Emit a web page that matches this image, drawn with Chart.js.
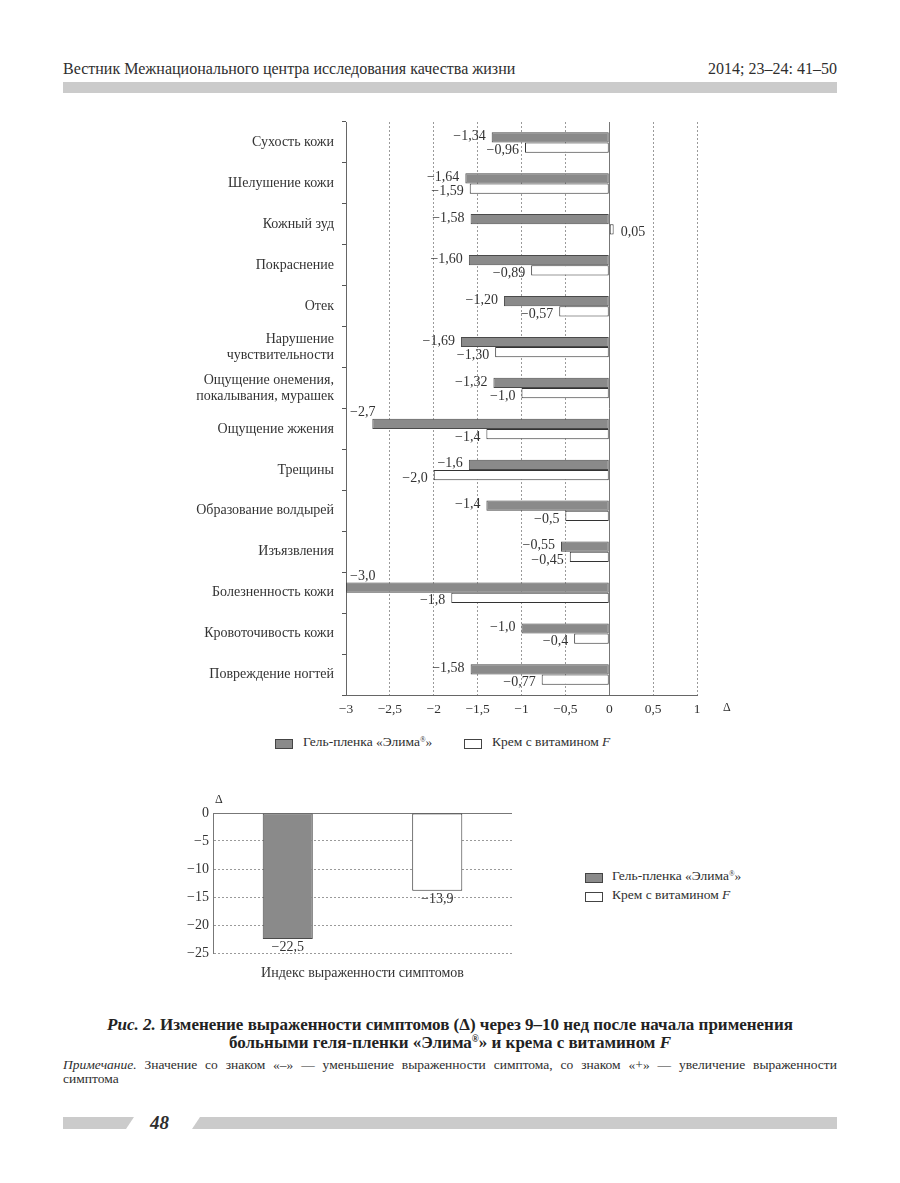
<!DOCTYPE html>
<html lang="ru">
<head>
<meta charset="utf-8">
<script src="https://cdn.jsdelivr.net/npm/chart.js@4.4.1/dist/chart.umd.min.js"></script>
<style>
  body { margin: 0; background: #fff; }
  #page { position: relative; width: 900px; height: 1183px; font-family: "Liberation Serif", serif; color: #2e2e2e; overflow: hidden; }
  .abs { position: absolute; }
  .box { position: absolute; width: 16px; height: 8px; border: 1px solid #444; }
  sup { font-size: 0.55em; vertical-align: 0.6em; line-height: 0; }
</style>
</head>
<body>
<div id="page">
  <!-- header -->
  <div class="abs" style="left:63px; top:60px; font-size:16px;">Вестник Межнационального центра исследования качества жизни</div>
  <div class="abs" style="right:63px; top:60px; font-size:16px;">2014; 23–24: 41–50</div>
  <div class="abs" style="left:63px; top:82px; width:774px; height:11px; background:#cbcbcb;"></div>

  <!-- chart 1 -->
  <canvas id="symptoms" class="abs" style="left:150px; top:110px;" width="610" height="620"></canvas>
  <div class="abs" style="left:723px; top:700px; font-size:12px;">Δ</div>
  <div class="box" style="left:275px; top:739px; background:#8a8a8a;"></div>
  <div class="abs" style="left:303px; top:734px; font-size:13.5px;">Гель-пленка «Элима<sup>®</sup>»</div>
  <div class="box" style="left:464px; top:739px; background:#fff;"></div>
  <div class="abs" style="left:492px; top:734px; font-size:13.5px;">Крем с витамином <i>F</i></div>

  <!-- chart 2 -->
  <canvas id="indexChart" class="abs" style="left:150px; top:795px;" width="380" height="190"></canvas>
  <div class="abs" style="left:215px; top:792px; font-size:12px;">Δ</div>
  <div class="box" style="left:585px; top:873px; background:#8a8a8a;"></div>
  <div class="abs" style="left:612px; top:868px; font-size:13.5px;">Гель-пленка «Элима<sup>®</sup>»</div>
  <div class="box" style="left:585px; top:892px; background:#fff;"></div>
  <div class="abs" style="left:612px; top:887px; font-size:13.5px;">Крем с витамином <i>F</i></div>

  <!-- caption -->
  <div class="abs" style="left:40px; top:1016px; width:820px; text-align:center; font-weight:bold; font-size:17px; line-height:18px; color:#222;">
    <i>Рис. 2.</i> Изменение выраженности симптомов (Δ) через 9–10 нед после начала применения<br>больными геля-пленки «Элима<sup>®</sup>» и крема с витамином <i>F</i>
  </div>
  <div class="abs" style="left:63px; top:1058px; width:774px; font-size:13.5px; line-height:14px;">
    <div style="text-align:justify; text-align-last:justify;"><i>Примечание.</i> Значение со знаком «–» — уменьшение выраженности симптома, со знаком «+» — увеличение выраженности</div>
    <div>симптома</div>
  </div>

  <!-- footer -->
  <div class="abs" style="left:63px; top:1117px; width:71px; height:12px; background:#cbcbcb; clip-path:polygon(0 0,100% 0,calc(100% - 8px) 100%,0 100%);"></div>
  <div class="abs" style="left:150px; top:1112px; font-size:19px; font-weight:bold; font-style:italic;">48</div>
  <div class="abs" style="left:192px; top:1117px; width:645px; height:12px; background:#cbcbcb; clip-path:polygon(8px 0,100% 0,100% 100%,0 100%);"></div>
</div>

<script>
const categories = [
  'Сухость кожи',
  'Шелушение кожи',
  'Кожный зуд',
  'Покраснение',
  'Отек',
  ['Нарушение', 'чувствительности'],
  ['Ощущение онемения,', 'покалывания, мурашек'],
  'Ощущение жжения',
  'Трещины',
  'Образование волдырей',
  'Изъязвления',
  'Болезненность кожи',
  'Кровоточивость кожи',
  'Повреждение ногтей'
];
// values as printed in the figure
const gelValues = ['-1.34', '-1.64', '-1.58', '-1.60', '-1.20', '-1.69', '-1.32', '-2.7', '-1.6', '-1.4', '-0.55', '-3.0', '-1.0', '-1.58'];
const creamValues = ['-0.96', '-1.59', '0.05', '-0.89', '-0.57', '-1.30', '-1.0', '-1.4', '-2.0', '-0.5', '-0.45', '-1.8', '-0.4', '-0.77'];

const indexCategory = ['Индекс выраженности симптомов'];
const gelIndex = ['-22.5'];
const creamIndex = ['-13.9'];

const seriesNames = ['Гель-пленка «Элима®»', 'Крем с витамином F'];

const serif = '"Liberation Serif", serif';
const textColor = '#333';

function fmt(v) {
  return String(v).replace('-', '−').replace('.', ',');
}

const hLabels = {
  id: 'hLabels',
  afterDatasetsDraw(chart) {
    const {ctx, chartArea} = chart;
    ctx.save();
    ctx.font = '14px ' + serif;
    ctx.fillStyle = textColor;
    ctx.textBaseline = 'middle';
    [gelValues, creamValues].forEach((vals, di) => {
      chart.getDatasetMeta(di).data.forEach((bar, i) => {
        const txt = fmt(vals[i]);
        const w = ctx.measureText(txt).width;
        let x, y = bar.y + (di === 0 ? -1 : 3);
        if (Number(vals[i]) > 0) {
          ctx.textAlign = 'left';
          x = bar.x + 7;
        } else if (bar.x - 6 - w < chartArea.left + 2) {
          // not enough room: put it above the bar
          ctx.textAlign = 'right';
          x = Math.max(bar.x + 1, chartArea.left + 4 + w);
          y = bar.y - bar.height / 2 - 6;
        } else {
          ctx.textAlign = 'right';
          x = bar.x - 6;
        }
        ctx.fillText(txt, x, y);
      });
    });
    ctx.restore();
  }
};

const vLabels = {
  id: 'vLabels',
  afterDatasetsDraw(chart) {
    const ctx = chart.ctx;
    ctx.save();
    ctx.font = '14px ' + serif;
    ctx.fillStyle = textColor;
    ctx.textAlign = 'center';
    ctx.textBaseline = 'middle';
    [gelIndex, creamIndex].forEach((vals, di) => {
      chart.getDatasetMeta(di).data.forEach((bar, i) => {
        ctx.fillText(fmt(vals[i]), bar.x, bar.y + 8);
      });
    });
    ctx.restore();
  }
};

const dash = c => (c.tick && c.tick.value === 0) ? [] : [2, 2];

new Chart(document.getElementById('symptoms'), {
  type: 'bar',
  data: {
    labels: categories,
    datasets: [
      {
        label: seriesNames[0],
        data: gelValues.map(Number),
        backgroundColor: '#8a8a8a',
        borderColor: '#4a4a4a',
        borderWidth: 1,
        borderSkipped: false,
        categoryPercentage: 0.5,
        barPercentage: 1
      },
      {
        label: seriesNames[1],
        data: creamValues.map(Number),
        backgroundColor: '#ffffff',
        borderColor: '#333',
        borderWidth: 1,
        borderSkipped: false,
        categoryPercentage: 0.5,
        barPercentage: 1
      }
    ]
  },
  options: {
    responsive: false,
    animation: false,
    indexAxis: 'y',
    layout: { padding: { top: 12, right: 63, left: 0, bottom: 0 } },
    plugins: { legend: { display: false }, tooltip: { enabled: false } },
    scales: {
      x: {
        min: -3,
        max: 1,
        ticks: {
          stepSize: 0.5,
          callback: v => fmt(v),
          color: textColor,
          font: { family: serif, size: 13.5 },
          padding: 6
        },
        grid: {
          drawTicks: false,
          color: c => c.tick.value === 0 ? '#777' : (c.tick.value === -3 ? 'rgba(0,0,0,0)' : '#9a9a9a')
        },
        border: { color: '#666', dash: dash },
        afterFit: s => { s.height = 35; }
      },
      y: {
        ticks: {
          color: textColor,
          font: { family: serif, size: 14, lineHeight: 1.15 },
          padding: 8
        },
        grid: { drawOnChartArea: false, offset: true, tickLength: 4, color: '#555' },
        border: { color: '#666' },
        afterFit: s => { s.width = 196; s.paddingTop = 0; s.paddingBottom = 0; }
      }
    }
  },
  plugins: [hLabels]
});

new Chart(document.getElementById('indexChart'), {
  type: 'bar',
  data: {
    labels: indexCategory,
    datasets: [
      {
        label: seriesNames[0],
        data: gelIndex.map(Number),
        backgroundColor: '#8a8a8a',
        borderColor: '#4a4a4a',
        borderWidth: 1,
        borderSkipped: false,
        categoryPercentage: 1,
        barPercentage: 0.335
      },
      {
        label: seriesNames[1],
        data: creamIndex.map(Number),
        backgroundColor: '#ffffff',
        borderColor: '#333',
        borderWidth: 1,
        borderSkipped: false,
        categoryPercentage: 1,
        barPercentage: 0.335
      }
    ]
  },
  options: {
    responsive: false,
    animation: false,
    layout: { padding: { top: 18, right: 18, left: 0, bottom: 0 } },
    plugins: { legend: { display: false }, tooltip: { enabled: false } },
    scales: {
      x: {
        ticks: { color: textColor, font: { family: serif, size: 14 }, padding: 12 },
        grid: { display: false, drawTicks: false },
        border: { display: false },
        afterFit: s => { s.height = 32; }
      },
      y: {
        min: -25,
        max: 0,
        ticks: {
          stepSize: 5,
          callback: v => fmt(v),
          color: textColor,
          font: { family: serif, size: 14 },
          padding: 4
        },
        grid: { drawTicks: false, color: c => c.tick.value === 0 ? '#777' : '#9a9a9a' },
        border: { color: '#777', dash: dash },
        afterFit: s => { s.width = 63; }
      }
    }
  },
  plugins: [vLabels]
});
</script>
</body>
</html>
